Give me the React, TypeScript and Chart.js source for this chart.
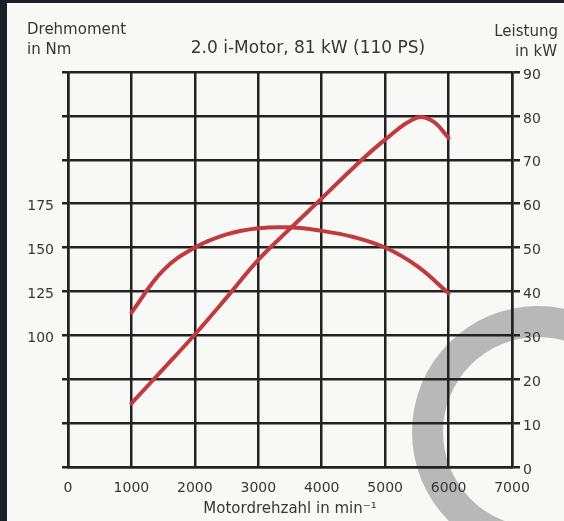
import React, { useEffect, useRef } from 'react';
import { Chart, registerables } from 'chart.js';

Chart.register(...registerables);

// ---- data ----
const rpmTorque = [1000, 1500, 2000, 2500, 3000, 3500, 4000, 4500, 5000, 5500, 6000];
const torqueNm = [113, 137, 150, 157.5, 161, 161.5, 159.5, 156, 150, 139.5, 124];
const rpmPower = [1000, 1500, 2000, 2500, 3000, 3500, 4000, 4500, 5000, 5500, 5750, 6000];
const powerKW = [14.5, 22.3, 30.2, 38.6, 47.2, 54.3, 61.2, 68.2, 74.6, 79.6, 78.8, 75];

const torqueTickLabels = [100, 125, 150, 175];
const chartTitle = '2.0 i-Motor, 81 kW (110 PS)';
const leftAxisTitle = ['Drehmoment', 'in Nm'];
const rightAxisTitle = ['Leistung', 'in kW'];
const xAxisTitle = 'Motordrehzahl in min⁻¹';

const W = 564;
const H = 521;
const FONT = '"DejaVu Sans", sans-serif';
const TEXT = '#363636';
const GRID = '#222222';
const RED = '#c03a3e';

const decor = {
  id: 'decor',
  beforeDraw(chart: any) {
    const { ctx } = chart;
    ctx.save();
    ctx.fillStyle = '#f8f8f6';
    ctx.fillRect(0, 0, W, H);
    ctx.fillStyle = '#1c1f26';
    ctx.fillRect(0, 0, 7, H);
    ctx.fillRect(0, 0, W, 3);
    // grey ring (watermark)
    ctx.beginPath();
    ctx.arc(538, 432, 126, 0, Math.PI * 2);
    ctx.arc(538, 432, 95, 0, Math.PI * 2, true);
    ctx.fillStyle = '#b8b8b8';
    ctx.fill('evenodd');
    ctx.restore();
  },
  afterDraw(chart: any) {
    const { ctx } = chart;
    ctx.save();
    ctx.fillStyle = TEXT;
    ctx.textBaseline = 'middle';
    ctx.font = `15px ${FONT}`;
    ctx.textAlign = 'left';
    ctx.fillText(leftAxisTitle[0], 27, 30);
    ctx.fillText(leftAxisTitle[1], 27, 50);
    ctx.textAlign = 'right';
    ctx.fillText(rightAxisTitle[0], 558, 32);
    ctx.fillText(rightAxisTitle[1], 557, 52);
    ctx.textAlign = 'center';
    ctx.font = `17px ${FONT}`;
    ctx.fillText(chartTitle, 308, 49);
    ctx.restore();
  },
};

export default function App() {
  const ref = useRef<HTMLCanvasElement>(null);
  useEffect(() => {
    document.body.style.margin = '0';
    const canvas = ref.current;
    if (!canvas) return;
    const gridCommon = { color: GRID, lineWidth: 2.5 };
    const chart = new Chart(canvas, {
      type: 'line',
      data: {
        datasets: [
          {
            label: 'Drehmoment',
            data: rpmTorque.map((x, i) => ({ x, y: torqueNm[i] })),
            yAxisID: 'yL',
            borderColor: RED,
            borderWidth: 4,
            pointRadius: 0,
            tension: 0.4,
            borderCapStyle: 'round',
          },
          {
            label: 'Leistung',
            data: rpmPower.map((x, i) => ({ x, y: powerKW[i] })),
            yAxisID: 'yR',
            borderColor: RED,
            borderWidth: 4,
            pointRadius: 0,
            tension: 0.4,
            borderCapStyle: 'round',
          },
        ],
      },
      options: {
        responsive: false,
        animation: false,
        devicePixelRatio: 1,
        layout: { padding: { top: 72, left: 0, right: 0, bottom: 0 } },
        plugins: { legend: { display: false }, tooltip: { enabled: false }, title: { display: false } },
        scales: {
          x: {
            type: 'linear',
            min: 0,
            max: 7000,
            ticks: {
              stepSize: 1000,
              padding: 13,
              color: TEXT,
              font: { family: FONT, size: 14 },
              maxRotation: 0,
              callback: (v: any) => String(v),
            },
            grid: { ...gridCommon, drawTicks: false },
            border: { display: true, color: GRID, width: 2.5 },
            title: { display: true, text: xAxisTitle, color: TEXT, font: { family: FONT, size: 15 }, padding: { top: 0, bottom: 3 } },
            afterFit: (s: any) => { s.height = H - 467; },
          },
          yL: {
            type: 'linear',
            position: 'left',
            min: 25,
            max: 250,
            ticks: {
              stepSize: 25,
              padding: 8,
              color: TEXT,
              font: { family: FONT, size: 14 },
              labelOffset: 3,
              callback: (v: any) => (torqueTickLabels.includes(Number(v)) ? String(v) : ''),
            },
            grid: { ...gridCommon, drawTicks: true, tickLength: 6 },
            border: { display: true, color: GRID, width: 2.5 },
            afterFit: (s: any) => { s.width = 68; },
          },
          yR: {
            type: 'linear',
            position: 'right',
            min: 0,
            max: 90,
            ticks: { stepSize: 10, padding: 3, color: TEXT, font: { family: FONT, size: 14 }, labelOffset: 3 },
            grid: { ...gridCommon, drawOnChartArea: false, drawTicks: true, tickLength: 8 },
            border: { display: true, color: GRID, width: 2.5 },
            afterFit: (s: any) => { s.width = W - 512; },
          },
        },
      },
      plugins: [decor],
    } as any);
    return () => chart.destroy();
  }, []);
  return (
    <div style={{ width: W, height: H }}>
      <canvas ref={ref} width={W} height={H} style={{ display: 'block', width: W, height: H }} />
    </div>
  );
}
